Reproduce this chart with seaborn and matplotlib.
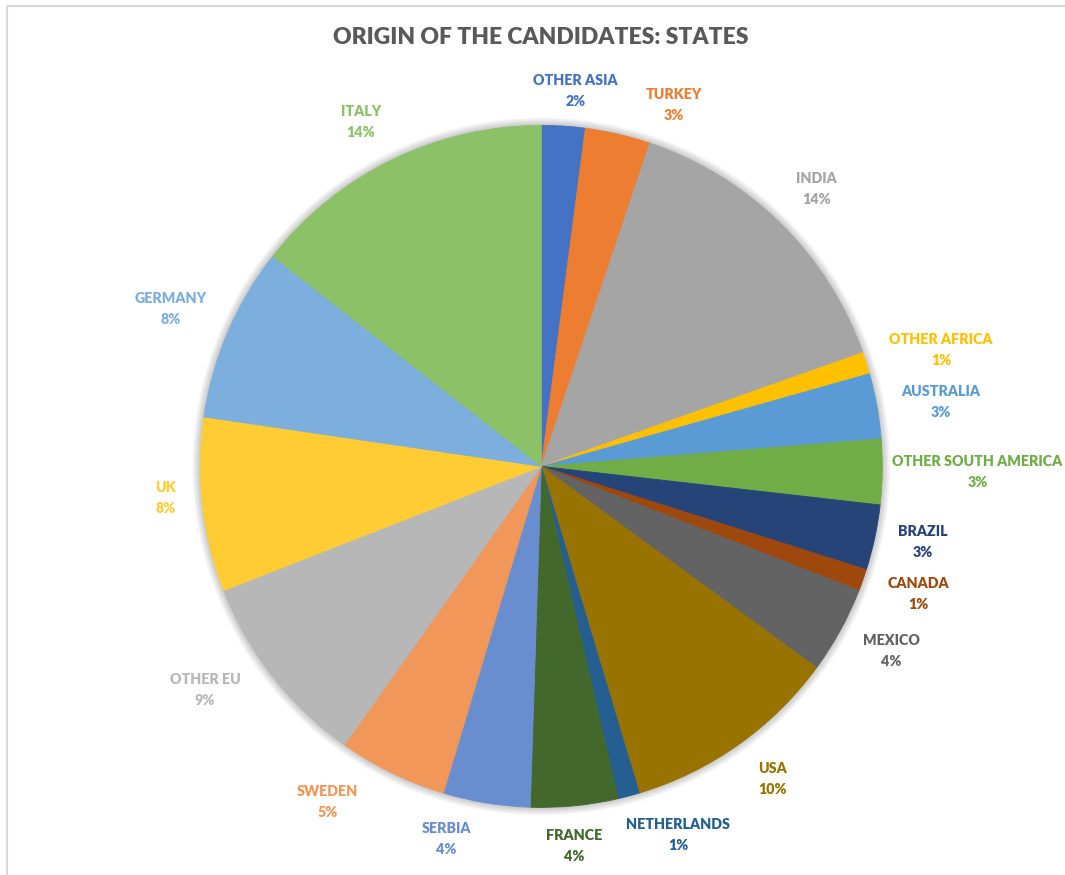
import matplotlib
matplotlib.use("Agg")
import matplotlib.pyplot as plt
import seaborn as sns
from matplotlib.patches import Circle
from matplotlib.lines import Line2D

# Origin of the candidates, share of total (%), clockwise from 12 o'clock
countries = [
    "OTHER ASIA", "TURKEY", "INDIA", "OTHER AFRICA", "AUSTRALIA",
    "OTHER SOUTH AMERICA", "BRAZIL", "CANADA", "MEXICO", "USA",
    "NETHERLANDS", "FRANCE", "SERBIA", "SWEDEN", "OTHER EU", "UK",
    "GERMANY", "ITALY",
]
shares = [2, 3, 14, 1, 3, 3, 3, 1, 4, 10, 1, 4, 4, 5, 9, 8, 8, 14]

slice_colors = [
    "#4472C4", "#ED7D31", "#A5A5A5", "#FFC000", "#5B9BD5", "#70AD47",
    "#264478", "#9E480E", "#636363", "#997300", "#255E91", "#43682B",
    "#698ED0", "#F1975A", "#B7B7B7", "#FFCD33", "#7CAFDD", "#8CC168",
]

title = "ORIGIN OF THE CANDIDATES: STATES"

# Label block centres, in units of the pie radius relative to its centre
label_layout = [
    (0.10, 1.10), (0.389, 1.061), (0.806, 0.813), (1.172, 0.340),
    (1.172, 0.189), (1.279, -0.016), (1.119, -0.223), (1.105, -0.373),
    (1.026, -0.541), (0.677, -0.918), (0.401, -1.082), (0.096, -1.112),
    (-0.279, -1.093), (-0.626, -0.983), (-0.986, -0.656), (-1.101, -0.094),
    (-1.086, 0.463), (-0.529, 1.009),
]

sns.set_theme(style="white")
plt.rcParams["font.family"] = ["Lato", "DejaVu Sans"]

W, H = 1065, 875
fig = plt.figure(figsize=(W / 100, H / 100), dpi=100)
fig.patch.set_facecolor("white")
ax = fig.add_axes([0, 0, 1, 1])

cx, cy, r = 541.3, H - 466.4, 341.0

# soft glow around the pie
for k in range(1, 10):
    ax.add_patch(Circle((cx, cy), r + k * 0.9, facecolor="black",
                        edgecolor="none", alpha=0.025, zorder=1))

palette = sns.color_palette(slice_colors)
wedges, _ = ax.pie(shares, colors=palette, startangle=90, counterclock=False,
                   center=(cx, cy), radius=r,
                   wedgeprops=dict(linewidth=0.6))
for w in wedges:
    w.set_edgecolor(w.get_facecolor())
    w.set_zorder(2)

ax.set_xlim(0, W)
ax.set_ylim(0, H)
ax.set_aspect("equal")
ax.axis("off")

for name, val, col, (lx, ly) in zip(countries, shares, slice_colors, label_layout):
    x = cx + lx * r
    y = cy + ly * r
    ax.text(x, y + 10.5, name, ha="center", va="center", color=col,
            fontsize=10.3, fontweight="heavy", zorder=5, clip_on=False)
    ax.text(x, y - 10.5, f"{val}%", ha="center", va="center", color=col,
            fontsize=10.3, fontweight="heavy", zorder=5, clip_on=False)

ax.text(541, H - 37, title, ha="center", va="center", color="#595959",
        fontsize=16.5, fontweight="heavy")

# chart-area frame
frame_kw = dict(color="#D9D9D9", linewidth=1.5, transform=fig.transFigure)
fig.add_artist(Line2D([7 / W, 1.0], [1 - 6 / H, 1 - 6 / H], **frame_kw))
fig.add_artist(Line2D([7 / W, 7 / W], [1 - 6 / H, 0.0], **frame_kw))

fig.savefig("out.png", dpi=100, facecolor="white")
